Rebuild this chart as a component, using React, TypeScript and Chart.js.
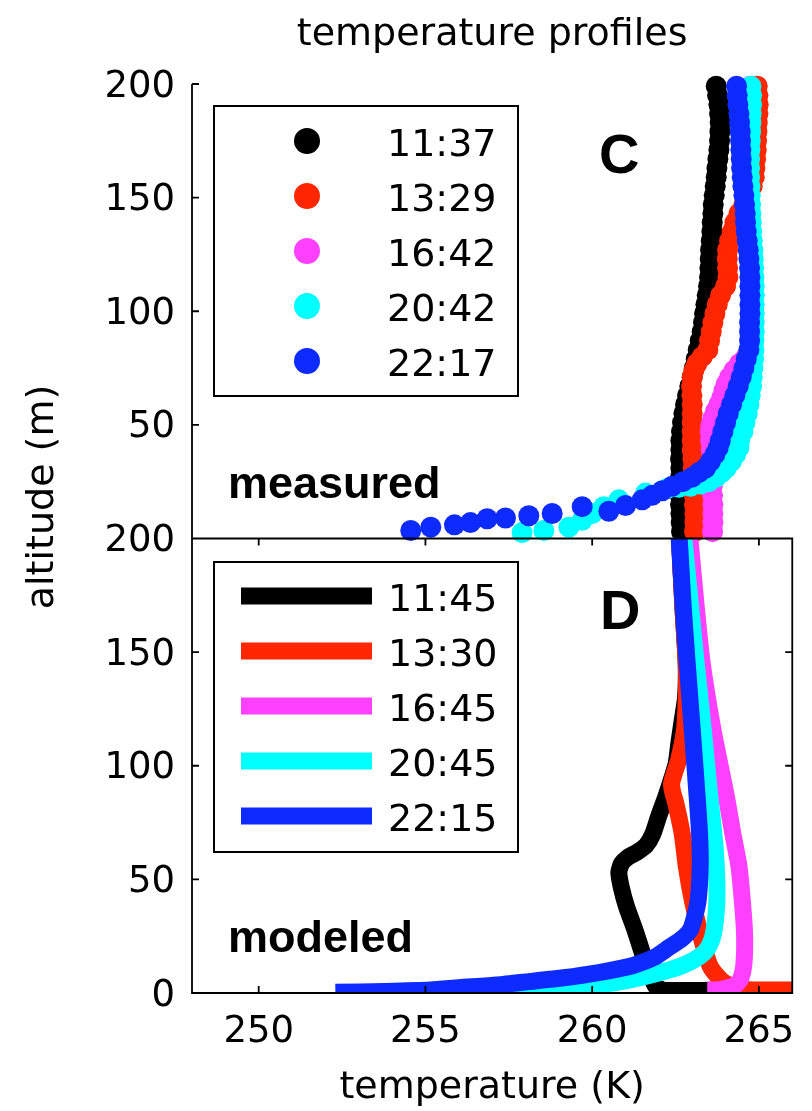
import { useEffect, useRef } from "react";
import { Chart, registerables } from "chart.js";

Chart.register(...registerables);

const CANVAS_W = 812;
const CANVAS_H = 1111;

// axis ranges and tick values
const tempMin = 248;
const tempMax = 266;
const tempTicks = [250, 255, 260, 265];
const altMin = 0;
const altMax = 200;
const altTicks = [0, 50, 100, 150, 200];

const profileColors = ["#000000", "#ff2600", "#ff40ff", "#00ffff", "#0d2bff"];
const measuredTimes = ["11:37", "13:29", "16:42", "20:42", "22:17"];
const modeledTimes = ["11:45", "13:30", "16:45", "20:45", "22:15"];

// ---- measured profiles (altitude m, temperature K) ----
const altM1137 = [199, 195, 191, 187, 183, 179, 175, 171, 167, 163, 159, 155, 151, 147, 143, 139, 135, 131, 127, 123, 119, 115, 111, 107, 103, 99, 95, 91, 87, 83, 79, 75, 71, 67, 63, 59, 55, 51, 47, 43, 39, 35, 31, 27, 23, 19, 15, 11, 7, 3];
const tempM1137 = [263.72, 263.76, 263.8, 263.82, 263.84, 263.83, 263.82, 263.8, 263.77, 263.74, 263.72, 263.69, 263.66, 263.63, 263.62, 263.6, 263.59, 263.57, 263.55, 263.54, 263.53, 263.52, 263.49, 263.45, 263.41, 263.37, 263.34, 263.3, 263.24, 263.18, 263.12, 263.06, 263.0, 262.93, 262.86, 262.8, 262.75, 262.71, 262.68, 262.66, 262.66, 262.65, 262.66, 262.65, 262.64, 262.64, 262.65, 262.66, 262.67, 262.68];

const altM1329 = [199, 195, 191, 187, 183, 179, 175, 171, 167, 163, 159, 155, 151, 147, 143, 139, 135, 131, 127, 123, 119, 115, 111, 107, 103, 99, 95, 91, 87, 83, 80, 77, 74, 71, 67, 63, 59, 55, 51, 47, 43, 39, 35, 31, 27, 23, 19, 15, 11, 7, 3];
const tempM1329 = [264.95, 264.97, 264.98, 264.97, 264.95, 264.94, 264.93, 264.92, 264.9, 264.88, 264.86, 264.8, 264.7, 264.55, 264.4, 264.28, 264.2, 264.12, 264.06, 264.05, 264.06, 264.07, 264.0, 263.85, 263.75, 263.68, 263.62, 263.57, 263.52, 263.47, 263.3, 263.14, 263.05, 263.0, 262.98, 262.99, 263.0, 263.0, 263.0, 263.0, 263.0, 263.0, 263.02, 263.03, 263.04, 263.05, 263.06, 263.07, 263.08, 263.08, 263.07];

const altM1642 = [199, 195, 191, 187, 183, 179, 175, 171, 167, 163, 159, 155, 151, 147, 143, 139, 135, 131, 127, 123, 119, 115, 111, 107, 103, 99, 95, 91, 87, 83, 80, 77, 74, 71, 68, 65, 62, 59, 56, 53, 50, 47, 43, 39, 35, 31, 27, 23, 19, 15, 11, 7, 3];
const tempM1642 = [264.74, 264.76, 264.76, 264.75, 264.74, 264.73, 264.72, 264.71, 264.7, 264.7, 264.7, 264.71, 264.72, 264.73, 264.74, 264.75, 264.76, 264.78, 264.8, 264.81, 264.82, 264.83, 264.84, 264.84, 264.84, 264.84, 264.84, 264.83, 264.83, 264.8, 264.62, 264.42, 264.25, 264.12, 264.02, 263.95, 263.89, 263.8, 263.7, 263.62, 263.56, 263.54, 263.55, 263.57, 263.58, 263.59, 263.6, 263.6, 263.61, 263.62, 263.62, 263.62, 263.61];

const altM2042 = [199, 195, 191, 187, 183, 179, 175, 171, 167, 163, 159, 155, 151, 147, 143, 139, 135, 131, 127, 123, 119, 115, 111, 107, 103, 99, 95, 91, 87, 83, 79, 75, 71, 67, 63, 59, 55, 51, 47, 43, 40, 37, 34, 31, 29, 27, 25, 24, 23, 22.5, 22, 20, 17, 14, 11, 8, 5, 3.5, 2.6];
const tempM2042 = [264.76, 264.78, 264.78, 264.77, 264.76, 264.75, 264.74, 264.73, 264.72, 264.72, 264.72, 264.73, 264.74, 264.75, 264.76, 264.77, 264.78, 264.8, 264.82, 264.83, 264.84, 264.85, 264.86, 264.86, 264.86, 264.86, 264.86, 264.86, 264.85, 264.85, 264.84, 264.82, 264.8, 264.78, 264.74, 264.7, 264.65, 264.58, 264.52, 264.42, 264.4, 264.3, 264.18, 264.02, 263.88, 263.72, 263.5, 263.25, 262.95, 262.6, 262.25, 261.6, 260.8, 260.35, 260.0, 259.7, 259.3, 258.55, 257.9];

const altM2217 = [199, 195, 191, 187, 183, 179, 175, 171, 167, 163, 159, 155, 151, 147, 143, 139, 135, 131, 127, 123, 119, 115, 111, 107, 103, 99, 95, 91, 87, 83, 79, 75, 71, 67, 63, 59, 55, 51, 47, 43, 40, 37, 34, 31, 29, 27, 25, 23, 21, 19, 17, 14.5, 12, 14, 11, 10, 9, 8.7, 7, 6, 5, 3.5];
const tempM2217 = [264.33, 264.35, 264.37, 264.4, 264.42, 264.44, 264.45, 264.46, 264.47, 264.48, 264.5, 264.52, 264.55, 264.57, 264.59, 264.6, 264.62, 264.65, 264.68, 264.7, 264.72, 264.73, 264.73, 264.73, 264.73, 264.73, 264.72, 264.72, 264.72, 264.7, 264.62, 264.55, 264.47, 264.38, 264.28, 264.18, 264.08, 264.0, 263.92, 263.84, 263.78, 263.68, 263.55, 263.4, 263.2, 263.0, 262.72, 262.4, 262.1, 261.8, 261.5, 261.0, 260.5, 259.7, 258.8, 258.1, 257.4, 256.85, 256.35, 255.87, 255.16, 254.56];

// ---- modeled profiles (altitude m, temperature K) ----
const altD1145 = [200, 170, 145, 130, 120, 110, 101, 95, 86, 78, 70, 65, 62, 59.5, 57, 53, 46, 38, 27, 17, 8, 3, 1.2, 1.2];
const tempD1145 = [262.62, 262.72, 262.82, 262.8, 262.7, 262.6, 262.52, 262.4, 262.2, 262.0, 261.82, 261.62, 261.35, 261.05, 260.88, 260.8, 260.88, 261.03, 261.3, 261.52, 261.75, 261.9, 262.15, 263.6];

const altD1330 = [200, 170, 145, 130, 116, 103, 96, 92, 88, 84, 70, 56, 41, 26, 12, 6, 3.5, 1.8, 1.3, 1.3];
const tempD1330 = [262.62, 262.72, 262.82, 262.82, 262.77, 262.6, 262.45, 262.38, 262.42, 262.5, 262.7, 262.82, 263.0, 263.24, 263.53, 263.85, 264.1, 264.4, 264.8, 266.0];

const altD1645 = [200, 170, 145, 116, 86, 70, 56, 41, 26, 12.5, 6, 3.5, 2, 1.3, 1.3];
const tempD1645 = [262.93, 263.12, 263.3, 263.62, 264.03, 264.22, 264.4, 264.5, 264.57, 264.55, 264.45, 264.3, 264.0, 263.7, 263.45];

const altD2045 = [200, 170, 145, 116, 86, 70, 56, 41, 30, 24, 20, 17.6, 14.5, 11.5, 8.5, 5.7, 3.5, 1.8, 0.8, 0.3];
const tempD2045 = [262.75, 262.95, 263.12, 263.33, 263.53, 263.65, 263.72, 263.74, 263.68, 263.6, 263.48, 263.35, 263.05, 262.6, 261.9, 261.1, 260.2, 259.1, 258.2, 257.5];

const altD2215 = [200, 170, 145, 116, 86, 70, 56, 41, 34, 28, 24, 20, 16, 13, 11.6, 9, 6.7, 5, 3.5, 2.3, 1.3, 0.7, 0.3];
const tempD2215 = [262.61, 262.73, 262.85, 263.0, 263.15, 263.22, 263.24, 263.18, 263.08, 262.95, 262.7, 262.3, 261.9, 261.4, 261.1, 260.2, 259.14, 258.1, 257.15, 256.0, 255.16, 253.8, 252.3];

const measuredProfiles = [
  [tempM1137, altM1137],
  [tempM1329, altM1329],
  [tempM1642, altM1642],
  [tempM2042, altM2042],
  [tempM2217, altM2217],
];
const modeledProfiles = [
  [tempD1145, altD1145],
  [tempD1330, altD1330],
  [tempD1645, altD1645],
  [tempD2045, altD2045],
  [tempD2215, altD2215],
];

const REGULAR = '"DejaVu Sans", sans-serif';
const BOLD = '"Liberation Sans", Arial, sans-serif';

const toPoints = (temps: number[], alts: number[]) =>
  temps.map((t, i) => ({ x: t, y: alts[i] }));

const datasets: any[] = [];
measuredProfiles.forEach(([temps, alts], i) => {
  datasets.push({
    label: measuredTimes[i],
    data: toPoints(temps, alts),
    xAxisID: "x",
    yAxisID: "yTop",
    showLine: false,
    pointRadius: 10.5,
    pointHoverRadius: 10.5,
    pointBorderWidth: 0,
    pointBackgroundColor: profileColors[i],
    borderColor: profileColors[i],
    backgroundColor: profileColors[i],
    order: 10 - i,
    clip: false,
  });
});
modeledProfiles.forEach(([temps, alts], i) => {
  datasets.push({
    label: modeledTimes[i],
    data: toPoints(temps, alts),
    xAxisID: "x",
    yAxisID: "yBot",
    showLine: true,
    pointRadius: 0,
    pointHoverRadius: 0,
    borderWidth: 17,
    borderColor: profileColors[i],
    backgroundColor: profileColors[i],
    borderJoinStyle: "round",
    borderCapStyle: "butt",
    tension: 0.2,
    order: 10 - i,
    clip: 0,
  });
});

const tickFont = { family: REGULAR, size: 37 };

const altAxis = (hideZero: boolean) => ({
  type: "linear",
  position: "left",
  stack: "altitude",
  stackWeight: 1,
  min: altMin,
  max: altMax,
  afterBuildTicks: (s: any) => {
    s.ticks = altTicks.map((v) => ({ value: v }));
  },
  afterFit: (s: any) => {
    s.width = 192;
  },
  grid: { display: false, drawTicks: false },
  border: { display: false },
  ticks: {
    font: tickFont,
    color: "#000",
    padding: 17,
    labelOffset: 3,
    autoSkip: false,
    callback: (v: number) => (hideZero && v === 0 ? "" : String(v)),
  },
});

const panelDecorations = {
  id: "panelDecorations",
  afterDatasetsDraw(chart: any) {
    const { ctx } = chart;
    const xs = chart.scales.x;
    const up = chart.scales.yTop;
    const lo = chart.scales.yBot;
    const L = xs.left;
    const R = xs.right;
    const tick = 7;

    ctx.save();
    ctx.strokeStyle = "#000";
    ctx.lineWidth = 1.8;
    ctx.lineJoin = "miter";
    ctx.lineCap = "butt";
    ctx.beginPath();
    // upper panel: y axis and baseline only
    ctx.moveTo(L, up.top);
    ctx.lineTo(L, up.bottom);
    ctx.lineTo(R, up.bottom);
    for (const v of altTicks) {
      const p = up.getPixelForValue(v);
      ctx.moveTo(L, p);
      ctx.lineTo(L + tick, p);
    }
    // lower panel: closed box with inward ticks
    ctx.rect(L, lo.top, R - L, lo.bottom - lo.top);
    for (const v of altTicks) {
      const p = lo.getPixelForValue(v);
      ctx.moveTo(L, p);
      ctx.lineTo(L + tick, p);
      ctx.moveTo(R, p);
      ctx.lineTo(R - tick, p);
    }
    for (const v of tempTicks) {
      const p = xs.getPixelForValue(v);
      ctx.moveTo(p, lo.bottom);
      ctx.lineTo(p, lo.bottom - tick);
      ctx.moveTo(p, lo.top);
      ctx.lineTo(p, lo.top + tick);
    }
    ctx.stroke();

    // legends
    const rowGap = 55;
    ctx.fillStyle = "#fff";
    ctx.lineWidth = 2;
    ctx.fillRect(214, 106, 304, 290);
    ctx.strokeRect(214, 106, 304, 290);
    ctx.fillRect(214, 562, 304, 290);
    ctx.strokeRect(214, 562, 304, 290);

    ctx.font = `38px ${REGULAR}`;
    ctx.textAlign = "left";
    ctx.textBaseline = "alphabetic";
    measuredTimes.forEach((t, i) => {
      const cy = 141 + i * rowGap;
      ctx.fillStyle = profileColors[i];
      ctx.beginPath();
      ctx.arc(307, cy, 13, 0, Math.PI * 2);
      ctx.fill();
      ctx.fillStyle = "#000";
      ctx.fillText(t, 387, cy + 15);
    });
    modeledTimes.forEach((t, i) => {
      const cy = 596 + i * rowGap;
      ctx.fillStyle = profileColors[i];
      ctx.fillRect(241, cy - 8.5, 131, 17);
      ctx.fillStyle = "#000";
      ctx.fillText(t, 388, cy + 15);
    });

    // titles and panel annotations
    const cx = (L + R) / 2;
    ctx.fillStyle = "#000";
    ctx.textAlign = "center";
    ctx.font = `38px ${REGULAR}`;
    ctx.fillText("temperature profiles", cx, 45);
    ctx.fillText("temperature (K)", cx, 1098);

    ctx.save();
    ctx.translate(53, 497);
    ctx.rotate(-Math.PI / 2);
    ctx.fillText("altitude (m)", 0, 0);
    ctx.restore();

    ctx.textAlign = "left";
    ctx.font = `bold 56px ${BOLD}`;
    ctx.fillText("C", 599, 173);
    ctx.fillText("D", 600, 629);
    ctx.font = `bold 45px ${BOLD}`;
    ctx.fillText("measured", 228, 498);
    ctx.fillText("modeled", 228, 952);
    ctx.restore();
  },
};

export default function App() {
  const canvasRef = useRef<HTMLCanvasElement>(null);

  useEffect(() => {
    const canvas = canvasRef.current;
    if (!canvas) return;
    const chart = new Chart(canvas, {
      type: "scatter",
      data: { datasets },
      options: {
        responsive: false,
        animation: false,
        devicePixelRatio: 1,
        layout: { padding: { top: 84, right: 14, left: 0, bottom: 0 } },
        plugins: {
          legend: { display: false },
          title: { display: false },
          tooltip: { enabled: false },
        },
        events: [],
        scales: {
          x: {
            type: "linear",
            position: "bottom",
            min: tempMin,
            max: tempMax,
            afterBuildTicks: (s: any) => {
              s.ticks = tempTicks.map((v) => ({ value: v }));
            },
            afterFit: (s: any) => {
              s.height = CANVAS_H - 993;
            },
            grid: { display: false, drawTicks: false },
            border: { display: false },
            ticks: {
              font: tickFont,
              color: "#000",
              padding: 17,
              autoSkip: false,
              maxRotation: 0,
              callback: (v: number) => String(v),
            },
          },
          yBot: altAxis(false),
          yTop: altAxis(true),
        } as any,
      },
      plugins: [panelDecorations],
    } as any);
    return () => chart.destroy();
  }, []);

  return (
    <div
      style={{
        position: "fixed",
        left: 0,
        top: 0,
        width: CANVAS_W,
        height: CANVAS_H,
        background: "#fff",
      }}
    >
      <canvas
        ref={canvasRef}
        width={CANVAS_W}
        height={CANVAS_H}
        style={{ display: "block", width: CANVAS_W, height: CANVAS_H }}
      />
    </div>
  );
}
